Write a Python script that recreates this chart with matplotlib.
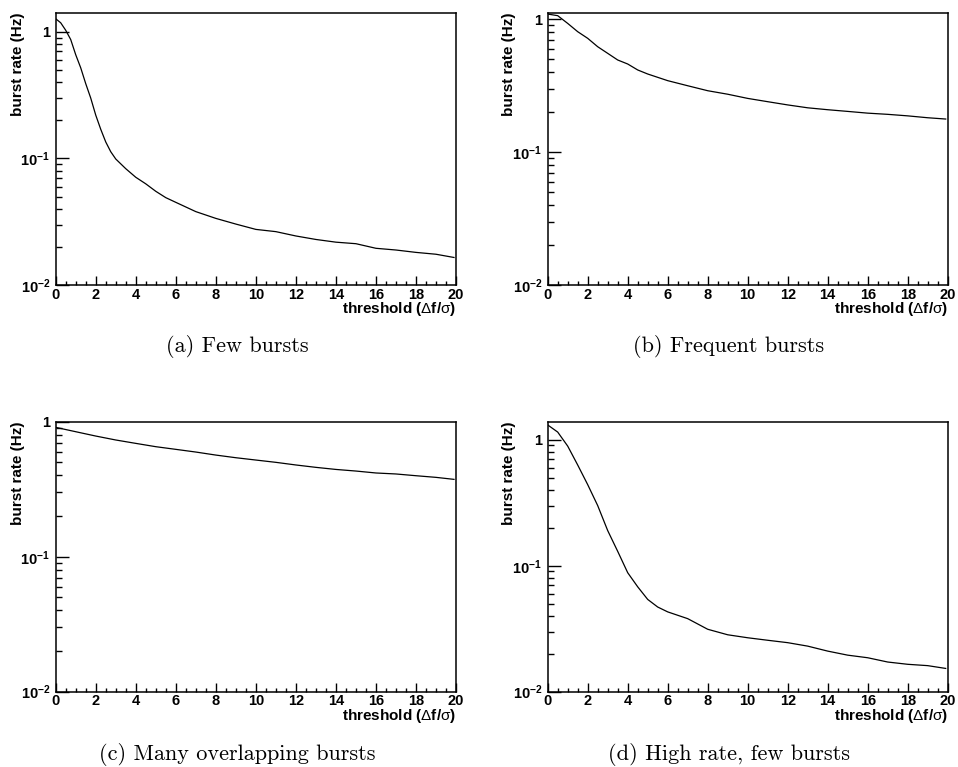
import numpy as np
import matplotlib
matplotlib.use("Agg")
import matplotlib.pyplot as plt
from matplotlib.ticker import FixedLocator, MultipleLocator, NullFormatter

plt.rcParams['font.family'] = ['Liberation Sans', 'DejaVu Sans']
plt.rcParams['mathtext.fontset'] = 'custom'
plt.rcParams['mathtext.rm'] = 'Liberation Sans'
plt.rcParams['mathtext.bf'] = 'Liberation Sans:bold'
plt.rcParams['mathtext.it'] = 'Liberation Sans:italic'

# (a) few bursts
x_a = [0, 0.25, 0.5, 0.75, 1, 1.25, 1.5, 1.75, 2, 2.25, 2.5, 2.75, 3, 3.5, 4,
       4.5, 5, 5.5, 6, 7, 8, 9, 10, 11, 12, 13, 14, 15, 16, 17, 18, 19, 19.9]
rate_a = [1.27, 1.18, 1.03, 0.87, 0.66, 0.52, 0.39, 0.30, 0.22, 0.17, 0.135,
          0.113, 0.099, 0.083, 0.071, 0.063, 0.055, 0.049, 0.045, 0.038, 0.0336,
          0.0303, 0.0275, 0.0264, 0.0244, 0.0229, 0.0218, 0.0212, 0.0195,
          0.0189, 0.0181, 0.0175, 0.0165]

# (b) frequent bursts
x_b = [0, 0.5, 1, 1.5, 2, 2.5, 3, 3.5, 4, 4.5, 5, 6, 7, 8, 9, 10, 11, 12, 13,
       14, 15, 16, 17, 18, 19, 19.9]
rate_b = [1.09, 1.06, 0.927, 0.803, 0.716, 0.619, 0.552, 0.492, 0.459, 0.414,
          0.386, 0.344, 0.315, 0.289, 0.272, 0.253, 0.239, 0.226, 0.215, 0.208,
          0.202, 0.196, 0.192, 0.187, 0.181, 0.177]

# (c) many overlapping bursts
x_c = [0, 1, 2, 3, 4, 5, 6, 7, 8, 9, 10, 11, 12, 13, 14, 15, 16, 17, 18, 19, 19.9]
rate_c = [0.908, 0.843, 0.783, 0.732, 0.691, 0.653, 0.624, 0.596, 0.566, 0.541,
          0.520, 0.500, 0.478, 0.459, 0.443, 0.431, 0.417, 0.410, 0.398, 0.387,
          0.374]

# (d) high rate, few bursts
x_d = [0, 0.5, 1, 1.5, 2, 2.5, 3, 3.5, 4, 4.5, 5, 5.5, 6, 7, 8, 9, 10, 11, 12,
       13, 14, 15, 16, 17, 18, 19, 19.9]
rate_d = [1.31, 1.15, 0.89, 0.63, 0.44, 0.30, 0.19, 0.13, 0.088, 0.068, 0.054,
          0.047, 0.043, 0.038, 0.0313, 0.0283, 0.0268, 0.0256, 0.0245, 0.0230,
          0.0210, 0.0195, 0.0186, 0.0172, 0.0165, 0.0161, 0.0153]

captions = ["(a) Few bursts", "(b) Frequent bursts",
            "(c) Many overlapping bursts", "(d) High rate, few bursts"]
ytops = [1.41, 1.11, 1.0, 1.39]

W, H = 958, 767


def px_axes(fig, left, top, right, bottom):
    return fig.add_axes([left / W, 1 - bottom / H, (right - left) / W, (bottom - top) / H])


def burst_panel(ax, x, y, ytop):
    ax.plot(x, y, color='black', lw=0.9)
    ax.set_yscale('log')
    ax.set_xlim(0, 20)
    ax.set_ylim(0.01, ytop)
    for s in ax.spines.values():
        s.set_linewidth(1.1)

    ax.xaxis.set_major_locator(MultipleLocator(2))
    ax.xaxis.set_minor_locator(MultipleLocator(0.5))
    ax.yaxis.set_major_locator(FixedLocator([0.01, 0.1, 1]))
    minors = [m * 10.0 ** e for e in (-2, -1, 0) for m in range(2, 10)]
    ax.yaxis.set_minor_locator(FixedLocator(minors))
    ax.yaxis.set_minor_formatter(NullFormatter())
    ax.set_yticklabels([r'$\mathbf{10^{-2}}$', r'$\mathbf{10^{-1}}$', '1'])

    ax.tick_params(axis='both', which='both', direction='in', top=False, right=False,
                   width=1.0, labelsize=10.5)
    ax.tick_params(axis='x', which='major', length=6.5, pad=2)
    ax.tick_params(axis='x', which='minor', length=3)
    ax.tick_params(axis='y', which='major', length=9, pad=4)
    ax.tick_params(axis='y', which='minor', length=4.5)
    for lab in ax.get_xticklabels() + ax.get_yticklabels():
        lab.set_fontweight('bold')

    ax.set_xlabel(r'threshold ($\mathrm{\Delta}$f/$\mathrm{\sigma}$)', fontsize=11,
                  fontweight='bold', loc='right')
    ax.xaxis.set_label_coords(1.0, -0.055)
    ax.set_ylabel('burst rate (Hz)', fontsize=11, fontweight='bold', loc='top')


fig = plt.figure(figsize=(W / 100, H / 100), dpi=100)

boxes = [(55.7, 13, 456, 285), (547.7, 13, 947.7, 285),
         (55.7, 421.7, 456, 691.7), (547.7, 421.7, 947.7, 691.7)]
data = [(x_a, rate_a), (x_b, rate_b), (x_c, rate_c), (x_d, rate_d)]
label_x = [25, 516, 25, 516]
cap_pos = [(237, 347), (729, 347), (237, 754), (729, 754)]

for i in range(4):
    left, top, right, bottom = boxes[i]
    ax = px_axes(fig, left, top, right, bottom)
    burst_panel(ax, data[i][0], data[i][1], ytops[i])
    ax.yaxis.set_label_coords((label_x[i] - left) / (right - left), 1.0)
    fig.text(cap_pos[i][0] / W, 1 - cap_pos[i][1] / H, captions[i],
             family='cmr10', fontsize=16, ha='center', va='center')

fig.savefig('out.png', dpi=100)
